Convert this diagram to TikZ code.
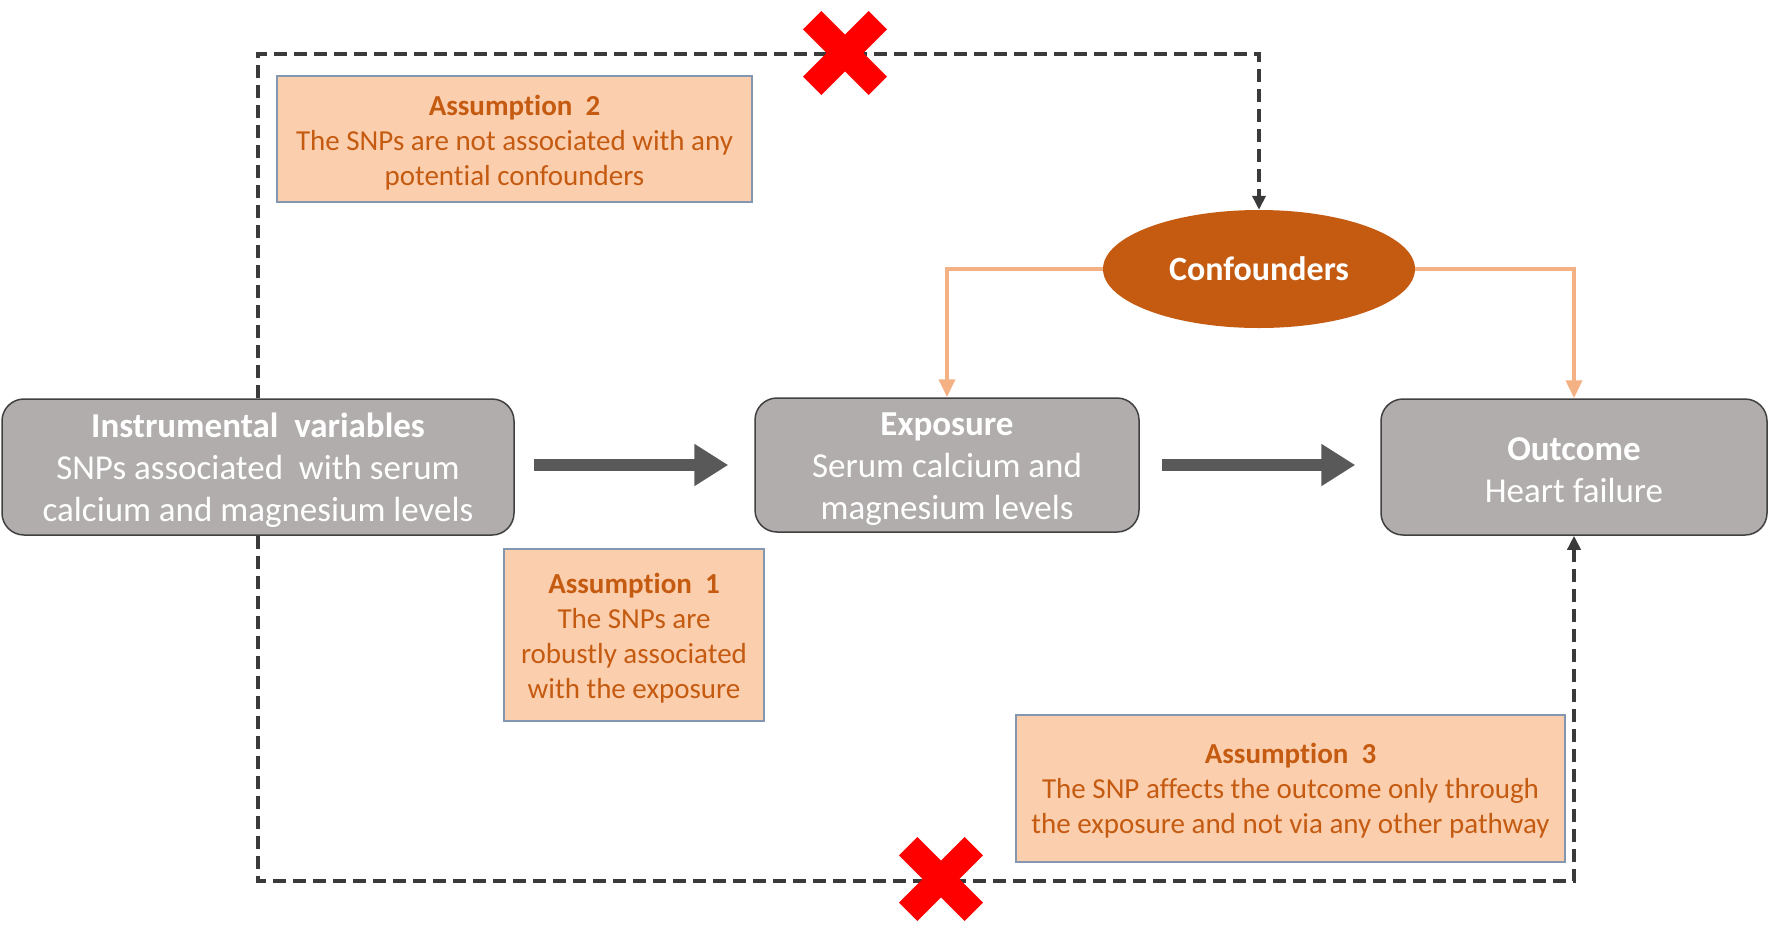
\documentclass[tikz,border=0pt]{standalone}
\usepackage{fontspec}
\setmainfont{Carlito}[RawFeature={-liga;-clig;-dlig;-calt}]
\usetikzlibrary{shapes.geometric,arrows.meta}
\definecolor{boxgrey}{HTML}{B1ADAC}
\definecolor{boxedge}{HTML}{404040}
\definecolor{peach}{HTML}{FBCFAE}
\definecolor{peachedge}{HTML}{8497B0}
\definecolor{rust}{HTML}{C55A11}
\definecolor{lightor}{HTML}{F4B183}
\definecolor{arrowgrey}{HTML}{595959}
\definecolor{dashgrey}{HTML}{3A3A3A}
\definecolor{xred}{HTML}{FF0000}
\newcommand\mytopstrut[1]{\rule{0pt}{#1}}
\begin{document}
\begin{tikzpicture}[x=1pt,y=-1pt,
  mainbox/.style={draw=boxedge, line width=1.5pt, fill=boxgrey, rounded corners=22pt,
    text=white, align=center, font=\fontsize{35}{42}\selectfont, inner sep=0pt},
  note/.style={draw=peachedge, line width=1.2pt, fill=peach, text=rust, align=center,
    font=\fontsize{29}{35}\selectfont, inner sep=0pt},
  dashline/.style={draw=dashgrey, line width=4pt, dash pattern=on 13pt off 7pt,
    -{Triangle[length=14pt,width=13pt]}},
  orangeline/.style={draw=lightor, line width=4pt, -{Triangle[length=18pt,width=16pt]}},
  thickarrow/.style={draw=arrowgrey, line width=12pt, -{Triangle[length=34pt,width=40pt]}},
  redx/.pic={\fill[xred] (42,23.6) -- (23.6,42) -- (0,18.4) -- (-23.6,42) -- (-42,23.6)
    -- (-18.4,0) -- (-42,-23.6) -- (-23.6,-42) -- (0,-18.4) -- (23.6,-42) -- (42,-23.6)
    -- (18.4,0) -- cycle;}
]
\useasboundingbox (0,0) rectangle (1772,927);

% main nodes
\node[mainbox, minimum width=512pt, minimum height=136pt] (iv) at (258,467)
  {\mytopstrut{31pt}\textbf{Instrumental\ \ variables}\\SNPs associated\ \ with serum\\calcium and magnesium levels};
\node[mainbox, minimum width=384pt, minimum height=134pt] (exp) at (947,465)
  {\mytopstrut{30pt}\textbf{Exposure}\\Serum calcium and\\magnesium levels};
\node[mainbox, minimum width=386pt, minimum height=136pt] (out) at (1574,467)
  {\mytopstrut{30pt}\textbf{Outcome}\\Heart failure};
\node[ellipse, fill=rust, minimum width=312pt, minimum height=118pt, inner sep=0pt,
  text=white, font=\bfseries\fontsize{34}{40}\selectfont] (conf) at (1259,269) {Confounders};

% assumption notes
\node[note, minimum width=475pt, minimum height=126pt] (a2) at (514.5,139)
  {\mytopstrut{27pt}\textbf{Assumption\ \ 2}\\The SNPs are not associated with any\\potential confounders};
\node[note, minimum width=260pt, minimum height=172pt] (a1) at (634,635)
  {\mytopstrut{26pt}\textbf{Assumption\ \ 1}\\The SNPs are\\robustly associated\\with the exposure};
\node[note, minimum width=549pt, minimum height=147pt] (a3) at (1290.5,788.5)
  {\mytopstrut{25pt}\textbf{Assumption\ \ 3}\\The SNP affects the outcome only through\\the exposure and not via any other pathway};

% corner coordinates of dashed paths
\coordinate (tl) at (258,54);
\coordinate (bl) at (258,881);

% dashed connectors
\draw[dashline] (iv.north) -- (tl) -| (conf.north);
\draw[dashline] (iv.south) -- (bl) -| (out.south);

% orange connectors
\draw[orangeline] (conf.west) -| (exp.north);
\draw[orangeline] (conf.east) -| (out.north);

% thick arrows
\draw[thickarrow, shorten <=19pt, shorten >=26pt] (iv.east |- exp.west) -- (exp.west);
\draw[thickarrow, shorten <=22pt, shorten >=25pt] (exp.east) -- (exp.east -| out.west);

% red crosses
\pic at (845,53) {redx};
\pic at (941,879) {redx};
\end{tikzpicture}
\end{document}
